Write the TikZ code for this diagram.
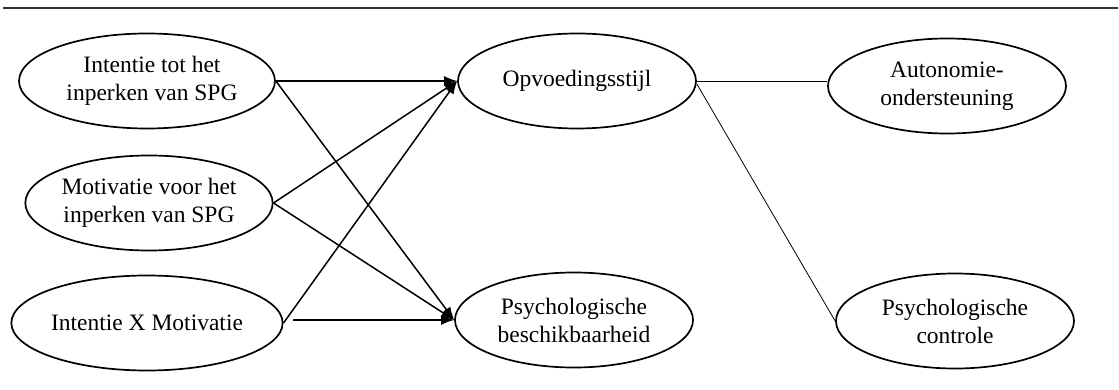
\documentclass[tikz,border=0pt]{standalone}
\usepackage{fontspec}
\setmainfont{Liberation Serif}
\usetikzlibrary{shapes.geometric,arrows.meta,calc}
\begin{document}
\begin{tikzpicture}[x=1pt,y=-1pt,
  latent/.style={ellipse,draw,line width=1.7pt,minimum width=238pt,minimum height=95pt,inner sep=0pt,align=center,font=\fontsize{23.5}{28}\selectfont},
  path/.style={line width=1.5pt,-{Latex[length=13pt,width=10pt]}},
  thinline/.style={line width=0.8pt}]
\useasboundingbox (0,0) rectangle (1119,390);
% top rule
\fill[black!80] (3,7.5) rectangle (1118,9.5);
% nodes
\node[latent] (E1) at (147,81) {\hspace*{10pt}Intentie tot het\\\hspace*{10pt}inperken van SPG};
\node[latent] (E2) at (149,203) {Motivatie voor het\\inperken van SPG};
\node[latent] (E3) at (147,323) {Intentie X Motivatie};
\node[latent] (O) at (577,81) {Opvoedingsstijl};
\node[latent] (PB) at (574,320) {Psychologische\\beschikbaarheid};
\node[latent] (A) at (947,86) {Autonomie-\\ondersteuning};
\node[latent] (PC) at (955,321) {Psychologische\\controle};
% arrows
\draw[path] (E1.east) -- (O.west);
\draw[path] (E1.east) -- (PB.west);
\draw[path] (E2.east) -- (O.west);
\draw[path] (E2.east) -- (PB.west);
\draw[path] (E3.east) -- (O.west);
\draw[path] ([xshift=9pt,yshift=3pt]E3.east) -- (PB.west);
% thin lines
\draw[thinline] (O.east) -- (O.east -| A.west);
\draw[thinline] ([yshift=-3pt]O.east) -- (PC.west);
\end{tikzpicture}
\end{document}
